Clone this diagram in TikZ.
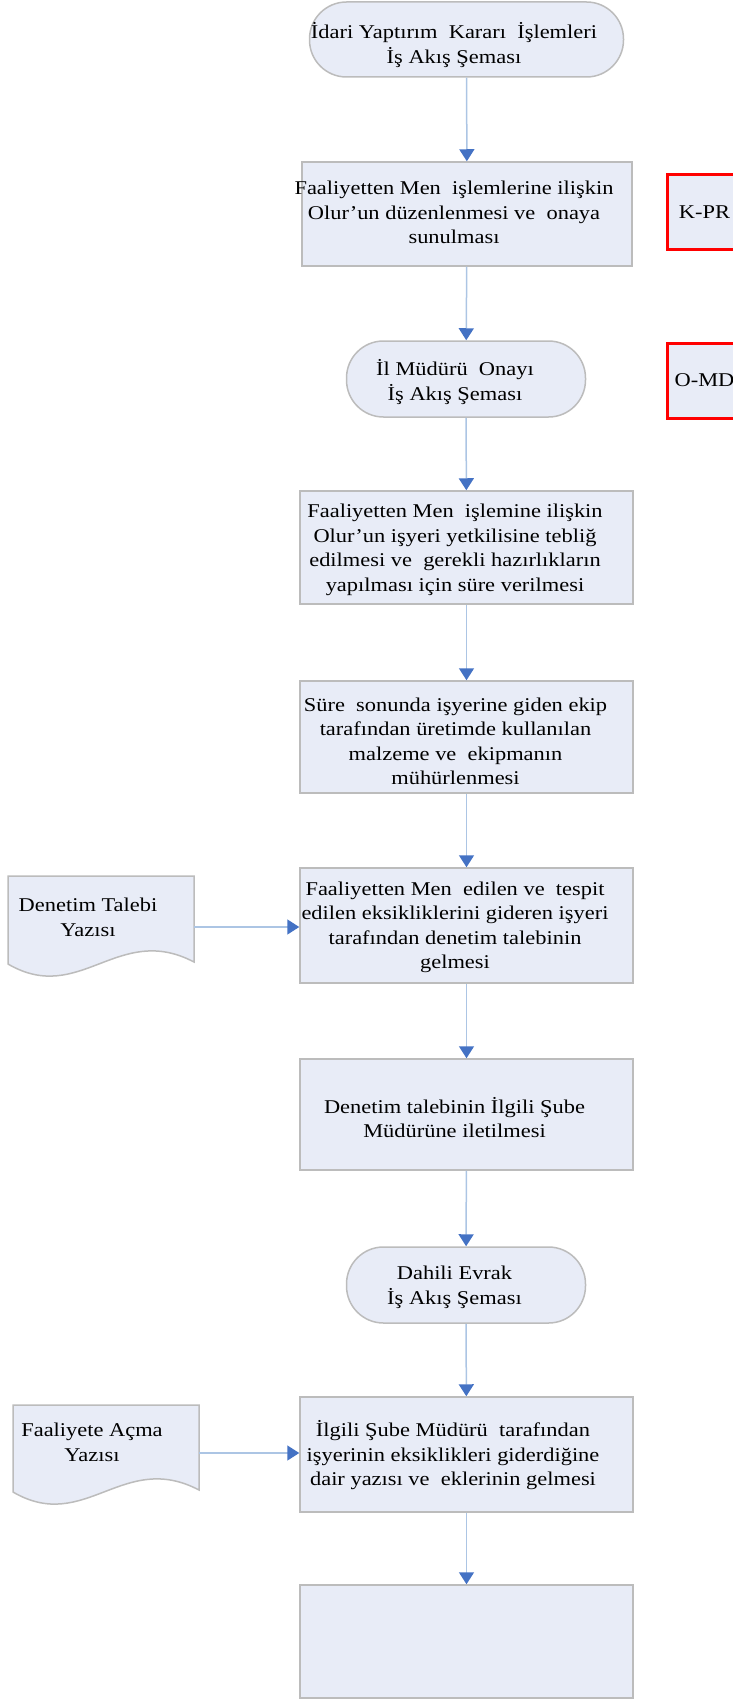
\documentclass[tikz,border=0pt]{standalone}
\usepackage{fontspec}
\setmainfont{Liberation Serif}[FakeStretch=1.15]
\usetikzlibrary{arrows.meta}

\definecolor{dolgu}{RGB}{232,236,247}
\definecolor{kenar}{RGB}{188,188,188}
\definecolor{okcizgi}{RGB}{172,197,228}
\definecolor{okucu}{RGB}{68,114,196}

\begin{document}
\begin{tikzpicture}[x=1pt, y=-1pt,
    kutu/.style={draw=kenar, fill=dolgu, line width=1.5pt, minimum width=333pt, inner sep=0pt},
    bitis/.style={kutu, rounded corners=37pt, minimum width=239pt, minimum height=76pt},
    kod/.style={draw=red, fill=dolgu, line width=3pt, minimum width=75pt, minimum height=75pt,
        inner sep=0pt, font=\fontsize{19.5}{24}\selectfont},
    yazi/.style={align=center, inner sep=0pt, font=\fontsize{19.5}{24.5}\selectfont},
    ok/.style={draw=okcizgi, line width=1.5pt, -{Triangle[width=15pt,length=12pt,color=okucu]}}]

    % Sayfa
    \useasboundingbox (0,0) rectangle (733,1699);

    % Akis kutulari
    \node[bitis, minimum width=314pt, minimum height=75pt] (basla) at (466.5,39.5) {};
    \node[kutu, minimum width=330pt, minimum height=104pt] (b1) at (467,214) {};
    \node[bitis] (onay) at (466,379) {};
    \node[kutu, minimum height=113pt] (b3) at (466.5,547.5) {};
    \node[kutu, minimum height=112pt] (b4) at (466.5,737) {};
    \node[kutu, minimum height=115pt] (b5) at (466.5,925.5) {};
    \node[kutu, minimum height=111pt] (b6) at (466.5,1114.5) {};
    \node[bitis] (dahili) at (466,1285) {};
    \node[kutu, minimum height=115pt] (b7) at (466.5,1454.5) {};
    \node[kutu, minimum height=113pt] (b8) at (466.5,1641.5) {};

    % Yazilar
    \node[yazi] (t0) at (454,45) {İdari Yaptırım~ Kararı~ İşlemleri\\İş Akış Şeması};
    \node[yazi] (t1) at (454,212.5) {Faaliyetten Men~ işlemlerine ilişkin\\Olur’un düzenlenmesi ve~ onaya\\sunulması};
    \node[yazi] (t2) at (455,382) {İl Müdürü~ Onayı\\İş Akış Şeması};
    \node[yazi] (t3) at (455,550) {Faaliyetten Men~ işlemine ilişkin\\Olur’un işyeri yetkilisine tebliğ\\edilmesi ve~ gerekli hazırlıkların\\yapılması için süre verilmesi};
    \node[yazi] (t4) at (455.5,741.5) {Süre~ sonunda işyerine giden ekip\\tarafından üretimde kullanılan\\malzeme ve~ ekipmanın\\mühürlenmesi};
    \node[yazi] (t5) at (455,927.5) {Faaliyetten Men~ edilen ve~ tespit\\edilen eksikliklerini gideren işyeri\\tarafından denetim talebinin\\gelmesi};
    \node[yazi] (t6) at (454.5,1117.5) {Denetim talebinin İlgili Şube\\Müdürüne iletilmesi};
    \node[yazi] (t7) at (454.5,1287.5) {Dahili Evrak\\İş Akış Şeması};
    \node[yazi] (t8) at (453,1455.5) {İlgili Şube Müdürü~ tarafından\\işyerinin eksiklikleri giderdiğine\\dair yazısı ve~ eklerinin gelmesi};

    % Kodlar
    \node[kod, minimum height=74pt] (kpr) at (704.5,212) {K-PR};
    \node[kod] (omd) at (704.5,380.5) {O-MD};

    % Belgeler
    \draw[kenar, fill=dolgu, line width=1.5pt] (8,876) -- (194,876) -- (194,962)
        .. controls (118,922) and (80,1006) .. (8,964) -- cycle;
    \draw[kenar, fill=dolgu, line width=1.5pt] (13,1405) -- (199,1405) -- (199,1490)
        .. controls (123,1450) and (85,1534) .. (13,1492) -- cycle;
    \node[yazi] (d1) at (88,917.5) {Denetim Talebi\\Yazısı};
    \node[yazi] (d2) at (92,1442.5) {Faaliyete Açma\\Yazısı};
    \coordinate (d1e) at (194,927);
    \coordinate (d2e) at (199,1453);

    % Oklar
    \draw[ok] (basla) -- (b1);
    \draw[ok] (b1) -- (onay);
    \draw[ok] (onay) -- (b3);
    \draw[ok] (b3) -- (b4);
    \draw[ok] (b4) -- (b5);
    \draw[ok] (b5) -- (b6);
    \draw[ok] (b6) -- (dahili);
    \draw[ok] (dahili) -- (b7);
    \draw[ok] (b7) -- (b8);
    \draw[ok] (d1e) -- (d1e -| b5.west);
    \draw[ok] (d2e) -- (d2e -| b7.west);
\end{tikzpicture}
\end{document}
